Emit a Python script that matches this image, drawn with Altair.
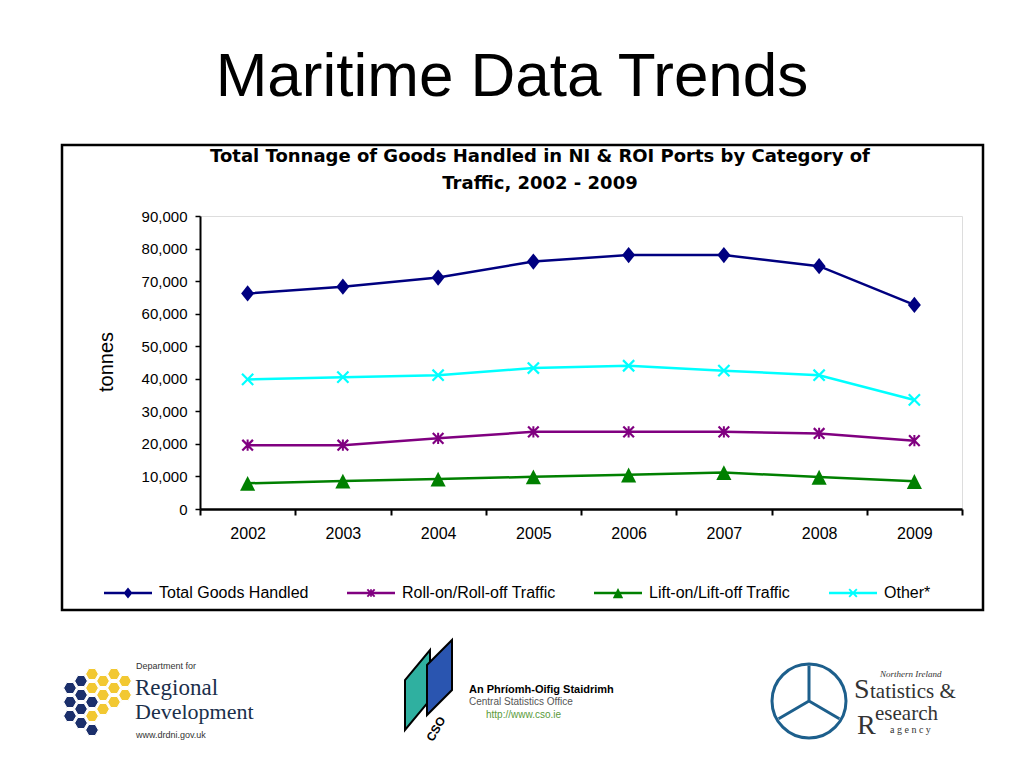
import altair as alt
import pandas as pd

# ---------------- data ----------------
YEARS = ["2002", "2003", "2004", "2005", "2006", "2007", "2008", "2009"]
SERIES = ["Total Goods Handled", "Roll-on/Roll-off Traffic",
          "Lift-on/Lift-off Traffic", "Other*"]
TOTAL = [66200, 68300, 71100, 76000, 78000, 78000, 74600, 62700]
RORO = [19600, 19600, 21700, 23700, 23700, 23700, 23200, 21000]
LOLO = [7900, 8600, 9200, 9900, 10500, 11200, 9800, 8500]
OTHER = [39800, 40500, 41100, 43300, 44000, 42500, 41100, 33500]
Y_TICKS = [0, 10000, 20000, 30000, 40000, 50000, 60000, 70000, 80000, 90000]

COLORS = ["#000080", "#800080", "#008000", "#00FFFF"]
# plot markers (unit path, scaled by the mark size)
SHAPES = [
    "M0,-0.29L0.232,0L0,0.29L-0.232,0Z",
    "M-0.036,-0.2L0.036,-0.2L0.036,0.2L-0.036,0.2Z"
    "M-0.162,-0.218L0.218,0.162L0.162,0.218L-0.218,-0.162Z"
    "M0.218,-0.162L-0.162,0.218L-0.218,0.162L0.162,-0.218Z",
    "M0,-0.26L0.27,0.27L-0.27,0.27Z",
    "M-0.172,-0.228L0.228,0.172L0.172,0.228L-0.228,-0.172Z"
    "M0.228,-0.172L-0.172,0.228L-0.228,0.172L0.172,-0.228Z",
]
# legend symbols: a line segment with a small marker on it
LINE_SEG = "M-1,-0.052L1,-0.052L1,0.052L-1,0.052Z"
LEGEND_SHAPES = [
    LINE_SEG + "M0,-0.23L0.186,0L0,0.23L-0.186,0Z",
    LINE_SEG + "M-0.036,-0.16L0.036,-0.16L0.036,0.16L-0.036,0.16Z"
    "M-0.124,-0.18L0.18,0.124L0.124,0.18L-0.18,-0.124Z"
    "M0.18,-0.124L-0.124,0.18L-0.18,0.124L0.124,-0.18Z",
    LINE_SEG + "M0,-0.21L0.216,0.216L-0.216,0.216Z",
    LINE_SEG + "M-0.132,-0.188L0.188,0.132L0.132,0.188L-0.188,-0.132Z"
    "M0.188,-0.132L-0.132,0.188L-0.188,0.132L0.132,-0.188Z",
]

rows = []
for name, vals in zip(SERIES, [TOTAL, RORO, LOLO, OTHER]):
    for yr, v in zip(YEARS, vals):
        rows.append({"year": yr, "series": name, "tonnes": v})
df = pd.DataFrame(rows)

FONT = "Liberation Sans"
SERIF = "Liberation Serif"
OX, OY = 200, 216  # plot origin on the page

x_enc = alt.X("year:O",
              scale=alt.Scale(type="band", paddingInner=0, paddingOuter=0),
              axis=alt.Axis(title=None, labelAngle=0, tickBand="extent",
                            domainColor="black", domainWidth=2.5,
                            tickColor="black", tickWidth=2, tickSize=6,
                            labelFont=FONT, labelFontSize=16, labelColor="black",
                            labelPadding=10))
y_enc = alt.Y("tonnes:Q",
              scale=alt.Scale(domain=[0, 90000], nice=False),
              axis=alt.Axis(title=None, values=Y_TICKS, format=",.0f", grid=False,
                            domainColor="black", domainWidth=2,
                            tickColor="black", tickWidth=1.5, tickSize=5,
                            labelFont=FONT, labelFontSize=15, labelColor="black",
                            labelPadding=8))

series_layers = []
for name, col, path in zip(SERIES, COLORS, SHAPES):
    base = alt.Chart(df).transform_filter(alt.datum.series == name)
    series_layers.append(base.mark_line(strokeWidth=2.5, color=col).encode(x=x_enc, y=y_enc))
    series_layers.append(
        base.mark_point(shape=path, size=3136, filled=True, fill=col, opacity=1)
        .encode(x=x_enc, y=y_enc)
    )

# invisible layer that only provides the legend (line + marker symbols)
LEG = alt.Legend(
    title=None, orient="none", legendX=-96, legendY=353,
    direction="horizontal", columns=4, symbolSize=2304,
    symbolOpacity=1, symbolFillColor="black", symbolStrokeWidth=0,
    labelFont=FONT, labelFontSize=16, labelColor="black", labelOffset=7,
    columnPadding=38, padding=0, labelLimit=400)
legend_layer = alt.Chart(df).mark_point(filled=True, opacity=0, size=10).encode(
    x=x_enc, y=y_enc,
    color=alt.Color("series:N", scale=alt.Scale(domain=SERIES, range=COLORS), legend=LEG),
    shape=alt.Shape("series:N", scale=alt.Scale(domain=SERIES, range=LEGEND_SHAPES),
                    legend=LEG),
)

# ---------------- decorations ----------------
ONE = alt.Data(values=[{"k": 0}])


def txt(text, px, py, **kw):
    kw.setdefault("font", FONT)
    kw.setdefault("color", "black")
    kw.setdefault("baseline", "alphabetic")
    kw.setdefault("align", "left")
    return alt.Chart(ONE).mark_text(text=text, **kw).encode(
        x=alt.value(px - OX), y=alt.value(py - OY))


def shp(path, px, py, size, **kw):
    return alt.Chart(ONE).mark_point(shape=path, size=size, opacity=1, **kw).encode(
        x=alt.value(px - OX), y=alt.value(py - OY))


box = alt.Chart(ONE).mark_rect(fill="transparent", stroke="black", strokeWidth=2.5).encode(
    x=alt.value(62 - OX), x2=alt.value(983 - OX),
    y=alt.value(145 - OY), y2=alt.value(610 - OY))

title = txt("Maritime Data Trends", 512, 96, fontSize=62, align="center")
ctitle = txt(["Total Tonnage of Goods Handled in NI & ROI Ports by Category of",
              "Traffic,  2002 - 2009"], 540, 162, fontSize=18, fontWeight="bold",
             font="DejaVu Sans", align="center", lineHeight=27)
ylab = txt("tonnes", 107, 362, fontSize=20, angle=270, align="center", baseline="middle")


# hexagon cluster (DRD logo)
def hexpath(cells):
    out = []
    r = 6.4
    for cx, cy in cells:
        pts = [(cx + r, cy), (cx + r / 2, cy - r * 0.866), (cx - r / 2, cy - r * 0.866),
               (cx - r, cy), (cx - r / 2, cy + r * 0.866), (cx + r / 2, cy + r * 0.866)]
        out.append("M" + "L".join(f"{a:.1f},{b:.1f}" for a, b in pts) + "Z")
    return "".join(out)


navy_cells = [(0, 16), (0, 30), (0, 44), (11, 9), (11, 23), (11, 37), (11, 51),
              (22, 30), (22, 58)]
yellow_cells = [(22, 2), (22, 16), (22, 44), (33, 9), (33, 23), (33, 37), (44, 2),
                (44, 16), (44, 30), (55, 9), (55, 23)]
hex_navy = shp(hexpath(navy_cells), 70, 672, 4, filled=True, fill="#1b2f6b", stroke="white",
               strokeWidth=1)
hex_yel = shp(hexpath(yellow_cells), 70, 672, 4, filled=True, fill="#f2c832", stroke="white",
              strokeWidth=1)
drd = [
    txt("Department for", 136, 669, fontSize=9, color="#333333"),
    txt("Regional", 135, 695, fontSize=23, font=SERIF, color="#1b2f4b"),
    txt("Development", 135, 719, fontSize=22, font=SERIF, color="#1b2f4b"),
    txt("www.drdni.gov.uk", 136, 738, fontSize=9, color="#333333"),
]

# CSO logo
cso_teal = shp("M0,40L0,-10L25,-40L25,10Z", 405, 690, 4, filled=True, fill="#2fb0a0",
               stroke="black", strokeWidth=2)
cso_blue = shp("M0,30L0,-20L25,-45L25,5Z", 427, 685, 4, filled=True, fill="#2a55b0",
               stroke="black", strokeWidth=2)
cso = [
    txt("CSO", 436, 729, fontSize=12, fontWeight="bold", angle=300, align="center",
        baseline="middle"),
    txt("An Phríomh-Oifig Staidrimh", 469, 693, fontSize=11, fontWeight="bold"),
    txt("Central Statistics Office", 469, 705, fontSize=10, color="#555555"),
    txt("http://www.cso.ie", 486, 718, fontSize=10, color="#5a9a3a"),
]

# NISRA logo
ring = shp("M1,0A1,1,0,1,1,-1,0A1,1,0,1,1,1,0ZM0,0L0,-0.95M0,0L0.82,0.48M0,0L-0.82,0.48",
           809, 701, 5476, filled=False, stroke="#1d5f8c", strokeWidth=3)
nisra = [
    txt("Northern Ireland", 880, 677, fontSize=9, font=SERIF, fontStyle="italic",
        color="#333333"),
    txt("S", 854, 698, fontSize=28, font=SERIF, color="#333333"),
    txt("tatistics &", 870, 698, fontSize=21, font=SERIF, color="#333333"),
    txt("R", 857, 734, fontSize=28, font=SERIF, color="#333333"),
    txt("esearch", 875, 720, fontSize=21, font=SERIF, color="#333333"),
    txt("a g e n c y", 890, 733, fontSize=10, font=SERIF, color="#333333"),
]

chart = alt.layer(
    box, title, ctitle, ylab, *series_layers, legend_layer,
    hex_navy, hex_yel, *drd, cso_teal, cso_blue, *cso, ring, *nisra,
).properties(
    width=762, height=293,
    autosize=alt.AutoSizeParams(type="none"),
    padding={"left": 192, "top": 208, "right": 50, "bottom": 240},
).configure_view(stroke="#b8b8b8", strokeWidth=1.5).configure(background="white")

chart.save("out.html", embed_options={"renderer": "svg", "actions": False})
